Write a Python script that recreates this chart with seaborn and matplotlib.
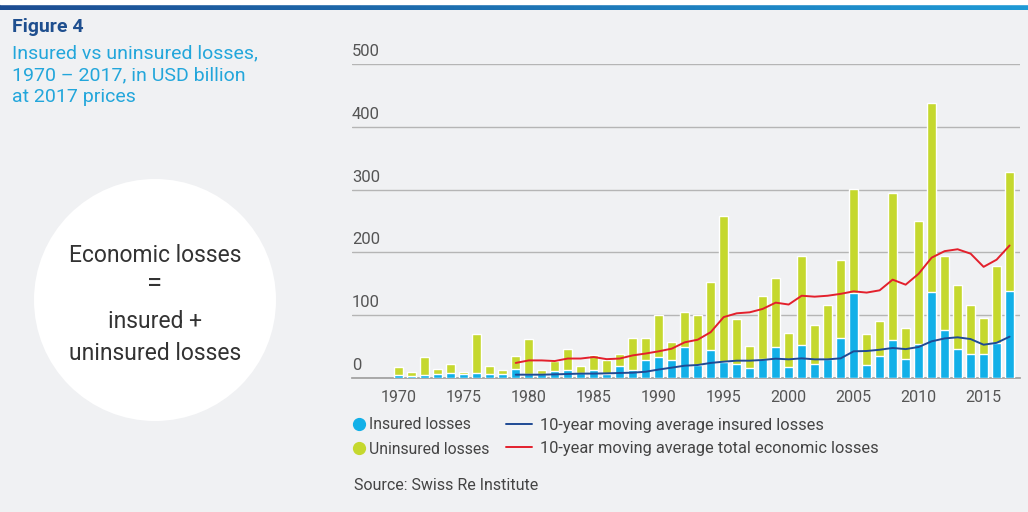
import matplotlib
matplotlib.use("Agg")
import matplotlib.pyplot as plt
import matplotlib.patches as mpatches
from matplotlib.lines import Line2D
import matplotlib.transforms as mtransforms
import numpy as np
import pandas as pd
import seaborn as sns

# values, USD billion at 2017 prices
years = list(range(1970, 2018))
total_losses = [17.5, 9.5, 33, 15, 23, 9, 70.6, 19, 13, 34.5,
                61.6, 12, 26.5, 45.6, 19, 37, 28, 37.7, 63, 63,
                100, 58, 104.6, 100, 153, 258.5, 94, 51, 130, 160,
                71, 194, 84, 117, 188, 301.5, 69.5, 90, 295, 80,
                250.5, 438, 195, 147.6, 115.7, 96, 179, 327.5]
insured_losses = [5.3, 3, 5, 7, 8, 7, 8, 7, 7, 14,
                  7, 6, 10.6, 12, 8, 12, 7, 18.6, 13, 29,
                  33.4, 28, 50, 21, 44, 25.5, 22, 16, 31, 50,
                  17.5, 52, 23, 31, 64, 136, 21, 35, 60, 30,
                  54.7, 137, 76, 45.6, 37.7, 38, 56, 138]
ma_years = list(range(1979, 2018))
ma_total = [24, 28, 28, 27, 31, 31, 33.4, 30, 31, 36,
            39, 42.5, 46.7, 56.8, 61, 73, 97, 103, 104.6, 110,
            120, 117, 131, 129.5, 131, 134, 138, 136, 139.6, 156.6,
            148.6, 166, 191.6, 202, 205, 198, 177, 188.4, 211]
ma_insured = [5.3, 5.3, 5.3, 5.8, 6.4, 7, 7, 7.4, 8, 8.5,
              10, 13.5, 16.5, 19.6, 20.7, 24, 26, 27.6, 27.6, 28.7,
              30.8, 29.7, 31.3, 29.7, 29.7, 31.3, 42.5, 43, 45, 47.8,
              46, 49.4, 58.4, 63, 64.8, 62, 53, 56, 65.8]
y_ticks = [0, 100, 200, 300, 400, 500]
x_ticks = list(range(1970, 2020, 5))

BG = "#f0f1f3"
CYAN = "#12b0e8"
LIME = "#c5d82e"
RED = "#e3202c"
NAVY = "#1f4a94"
GREY = "#555555"

sns.set_theme(style="white")
plt.rcParams["font.family"] = ["Roboto", "DejaVu Sans"]

bars = pd.DataFrame({"year": years, "total": total_losses, "insured": insured_losses})
ma = pd.DataFrame({"year": ma_years, "total": ma_total, "insured": ma_insured})

fig = plt.figure(figsize=(10.28, 5.12), dpi=100, facecolor=BG)

# top gradient strip
strip = fig.add_axes([0, 1 - 10 / 512, 1, 6 / 512])
strip.imshow(np.linspace(0, 1, 256).reshape(1, -1), aspect="auto",
             cmap=matplotlib.colors.LinearSegmentedColormap.from_list("s", ["#1d4d92", "#1f9ad6"]))
strip.axis("off")
fig.patches.append(mpatches.Rectangle((0, 1 - 4 / 512), 1, 4 / 512, transform=fig.transFigure,
                                      color="white", zorder=0))

# headings
fig.text(12 / 1028, 1 - 27 / 512, "Figure 4", fontsize=14, fontweight="bold",
         color="#1f4f8f", va="center")
fig.text(12 / 1028, 1 - 75 / 512, "Insured vs uninsured losses,\n1970 – 2017, in USD billion\nat 2017 prices",
         fontsize=14, color="#22a6db", va="center", linespacing=1.25)

# white circle with the identity
fig.patches.append(mpatches.Ellipse((155 / 1028, 1 - 300 / 512), 242 / 1028, 242 / 512,
                                    transform=fig.transFigure, facecolor="white",
                                    edgecolor="none", zorder=1))
for txt, ypx, fs in [("Economic losses", 255, 16.5), ("=", 283, 20),
                     ("insured +", 321, 16.5), ("uninsured losses", 353, 16.5)]:
    fig.text(155 / 1028, 1 - ypx / 512, txt, fontsize=fs, color="#333333",
             ha="center", va="center", zorder=2)

ax = fig.add_axes([352 / 1028, 1 - 378 / 512, 668 / 1028, 314 / 512])
ax.set_facecolor(BG)

sns.barplot(data=bars, x="year", y="total", color=LIME, native_scale=True,
            width=0.72, saturation=1, ax=ax, zorder=2)
sns.barplot(data=bars, x="year", y="insured", color=CYAN, native_scale=True,
            width=0.72, saturation=1, ax=ax, zorder=3)
sns.lineplot(data=ma, x="year", y="total", color=RED, linewidth=1.4, ax=ax, zorder=4)
sns.lineplot(data=ma, x="year", y="insured", color=NAVY, linewidth=1.4, ax=ax, zorder=4)

ax.set_xlim(1966.4, 2017.8)
ax.set_ylim(0, 500)
ax.set_yticks(y_ticks)
ax.set_yticklabels([])
ax.tick_params(axis="y", length=0)
ax.grid(axis="y", color="#b5b5b5", linewidth=1, zorder=0)
ax.set_axisbelow(True)
for s in ["top", "right", "left"]:
    ax.spines[s].set_visible(False)
ax.spines["bottom"].set_color("#a0a0a0")
ax.set_xticks(x_ticks)
ax.set_xticklabels([str(y) for y in x_ticks], fontsize=11.5, color=GREY)
ax.tick_params(axis="x", length=0, pad=9)
ax.set_xlabel("")
ax.set_ylabel("")

trans = mtransforms.blended_transform_factory(ax.transAxes, ax.transData)
for v in y_ticks:
    ax.text(0.0, v + 8, str(v), transform=trans, fontsize=12, color=GREY,
            ha="left", va="bottom")

# legend
dots = [Line2D([], [], marker="o", linestyle="none", markersize=8.5, color=CYAN),
        Line2D([], [], marker="o", linestyle="none", markersize=8.5, color=LIME)]
fig.legend(dots, ["Insured losses", "Uninsured losses"], loc="upper left",
           bbox_to_anchor=(337 / 1028, 1 - 403 / 512), frameon=False, fontsize=11.3,
           handlelength=1.0, handletextpad=0.15, labelspacing=0.6, labelcolor="#444444")
lines = [Line2D([], [], color=NAVY, linewidth=1.4), Line2D([], [], color=RED, linewidth=1.4)]
fig.legend(lines, ["10-year moving average insured losses", "10-year moving average total economic losses"],
           loc="upper left", bbox_to_anchor=(491 / 1028, 1 - 403 / 512), frameon=False,
           fontsize=11.8, handlelength=1.6, handletextpad=0.5, labelspacing=0.5,
           labelcolor="#444444")

fig.text(354 / 1028, 1 - 486 / 512, "Source: Swiss Re Institute", fontsize=11.5,
         color="#444444", va="center")

fig.savefig("out.png", dpi=100, facecolor=BG)
